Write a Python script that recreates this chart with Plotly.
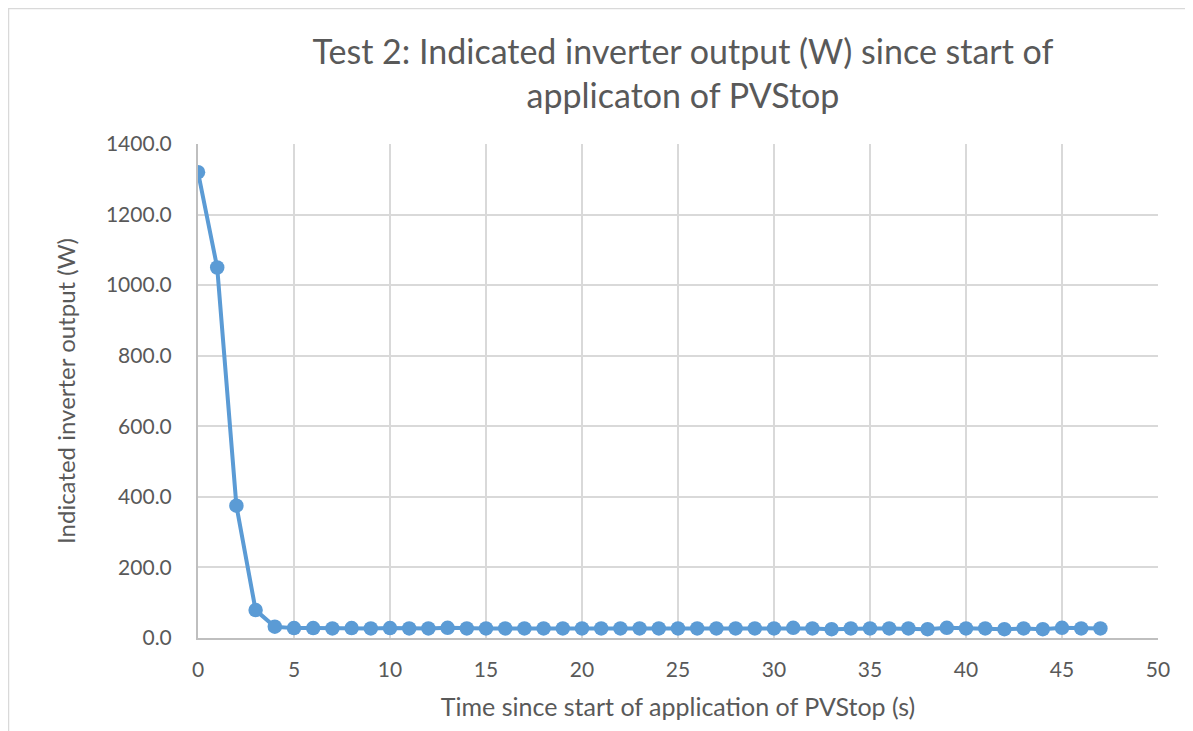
import plotly.graph_objects as go

# time since start of PVStop (s) and indicated inverter output (W)
time_s = list(range(48))
output_w = [1320.0, 1050.0, 375.0, 79.0, 32.0, 28.0, 28.0, 27.0, 28.0, 27.0,
            28.0, 27.0, 27.0, 29.0, 27.0, 27.0, 27.0, 27.0, 27.0, 27.0,
            27.0, 27.0, 27.0, 27.0, 27.0, 27.0, 27.0, 27.0, 27.0, 27.0,
            27.0, 29.0, 27.0, 25.0, 27.0, 27.0, 27.0, 27.0, 25.0, 29.0,
            27.0, 27.0, 25.0, 27.0, 25.0, 29.0, 27.0, 27.0]

y_ticks = [0, 200, 400, 600, 800, 1000, 1200, 1400]
x_ticks = [0, 5, 10, 15, 20, 25, 30, 35, 40, 45, 50]

grey = "#595959"
blue = "#5b9bd5"

fig = go.Figure()
fig.add_trace(go.Scatter(x=time_s, y=output_w, mode="lines+markers",
                         line=dict(color=blue, width=4),
                         marker=dict(color=blue, size=14.5),
                         showlegend=False))

fig.update_layout(
    width=1185, height=723,
    margin=dict(l=190, r=35, t=136, b=93),
    paper_bgcolor="white", plot_bgcolor="white",
    font=dict(family="Lato, Carlito, sans-serif", color=grey, size=21),
    title=dict(text="Test 2: Indicated inverter output (W) since start of<br>applicaton of PVStop",
               x=675 / 1185, xanchor="center", y=0.923, yanchor="top",
               font=dict(size=34, color=grey)),
)
fig.update_xaxes(range=[0, 50], tickvals=x_ticks, showgrid=True,
                 gridcolor="#d9d9d9", gridwidth=1.5,
                 showline=True, linecolor="#bfbfbf", linewidth=2,
                 zeroline=False, ticks="", ticklabelstandoff=12,
                 tickfont=dict(size=21, color=grey),
                 title=dict(text="Time since start of application of PVStop (s)",
                            font=dict(size=25, color=grey), standoff=18))
fig.update_yaxes(range=[0, 1400], tickvals=y_ticks,
                 ticktext=[f"{v:.1f}" for v in y_ticks],
                 showgrid=True, gridcolor="#d9d9d9", gridwidth=1.5,
                 showline=True, linecolor="#bfbfbf", linewidth=2,
                 zeroline=False, ticks="", ticklabelstandoff=20,
                 tickfont=dict(size=21, color=grey),
                 title=dict(text="Indicated inverter output (W)",
                            font=dict(size=24, color=grey), standoff=24))

# outer chart border
fig.add_shape(type="rect", xref="paper", yref="paper",
              x0=(0.5 - 190) / 960, x1=(1182 - 190) / 960,
              y0=-(745 - 630) / 494, y1=(630 - 0.5) / 494,
              line=dict(color="#d9d9d9", width=1.5), fillcolor="rgba(0,0,0,0)",
              layer="below")

fig.write_html("out.html")
